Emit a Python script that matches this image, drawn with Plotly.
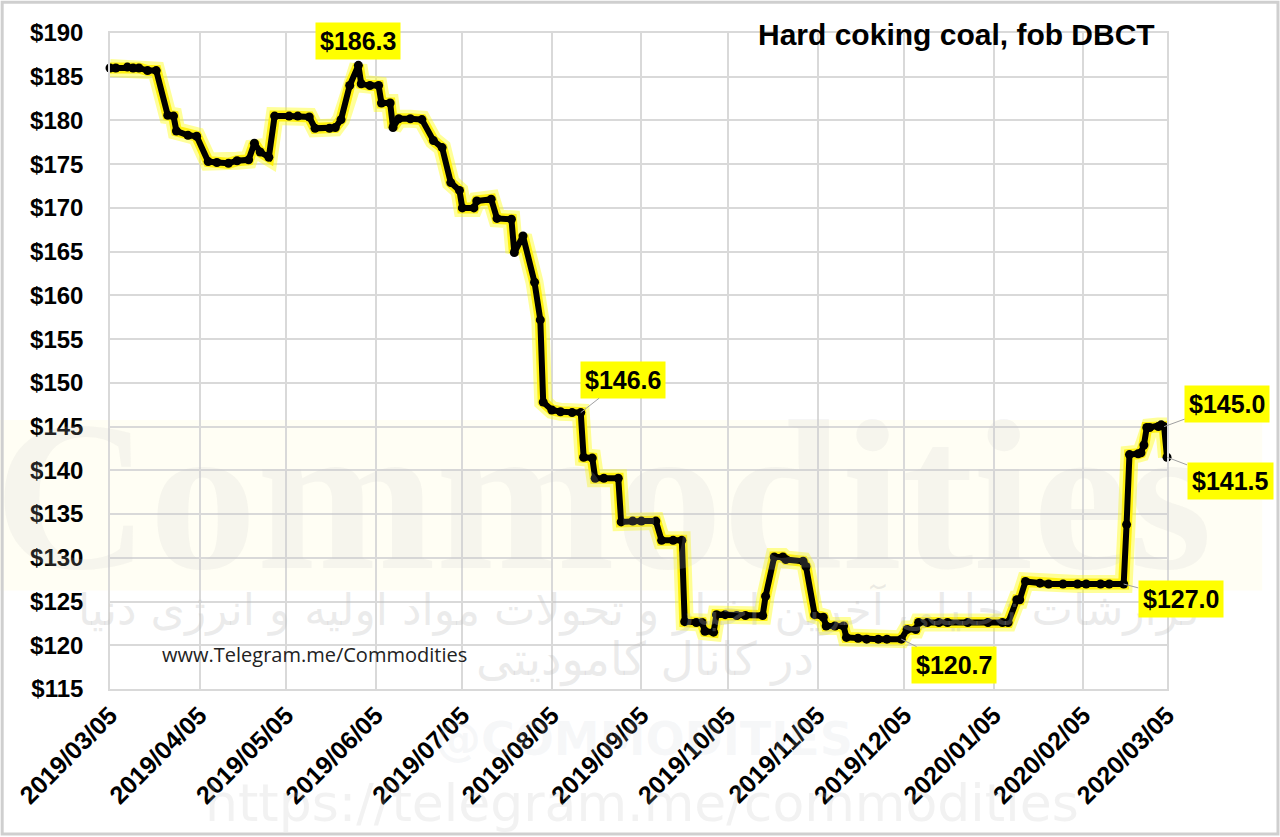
import plotly.graph_objects as go

# Hard coking coal, fob DBCT (USD/t)
dates = [
    "2019-03-05", "2019-03-07", "2019-03-11", "2019-03-13", "2019-03-15", "2019-03-18", "2019-03-21",
    "2019-03-25", "2019-03-27", "2019-03-28", "2019-04-01", "2019-04-04", "2019-04-08", "2019-04-11",
    "2019-04-15", "2019-04-18", "2019-04-22", "2019-04-24", "2019-04-26", "2019-04-29", "2019-05-01",
    "2019-05-06", "2019-05-09", "2019-05-13", "2019-05-15", "2019-05-20", "2019-05-22", "2019-05-24",
    "2019-05-27", "2019-05-30", "2019-05-31", "2019-06-03", "2019-06-06", "2019-06-07", "2019-06-10",
    "2019-06-11", "2019-06-13", "2019-06-17", "2019-06-21", "2019-06-25", "2019-06-28", "2019-07-01",
    "2019-07-04", "2019-07-05", "2019-07-09", "2019-07-10", "2019-07-15", "2019-07-17", "2019-07-22",
    "2019-07-23", "2019-07-26", "2019-07-30", "2019-08-01", "2019-08-02", "2019-08-05", "2019-08-08",
    "2019-08-12", "2019-08-15", "2019-08-16", "2019-08-19", "2019-08-20", "2019-08-23", "2019-08-28",
    "2019-08-29", "2019-09-02", "2019-09-05", "2019-09-10", "2019-09-12", "2019-09-16", "2019-09-19",
    "2019-09-20", "2019-09-24", "2019-09-26", "2019-09-27", "2019-09-30", "2019-10-01", "2019-10-04",
    "2019-10-08", "2019-10-11", "2019-10-17", "2019-10-18", "2019-10-21", "2019-10-24", "2019-10-25",
    "2019-10-31", "2019-11-01", "2019-11-04", "2019-11-07", "2019-11-08", "2019-11-11", "2019-11-14",
    "2019-11-15", "2019-11-19", "2019-11-22", "2019-11-26", "2019-11-29", "2019-12-04", "2019-12-06",
    "2019-12-09", "2019-12-10", "2019-12-13", "2019-12-17", "2019-12-20", "2019-12-27", "2020-01-03",
    "2020-01-08", "2020-01-10", "2020-01-13", "2020-01-14", "2020-01-16", "2020-01-21", "2020-01-24",
    "2020-01-29", "2020-02-03", "2020-02-06", "2020-02-11", "2020-02-14", "2020-02-19", "2020-02-20",
    "2020-02-21", "2020-02-24", "2020-02-25", "2020-02-26", "2020-02-27", "2020-02-28", "2020-03-02",
    "2020-03-03", "2020-03-04", "2020-03-05",
]
prices = [
    186.0, 186.0, 186.1, 186.0, 186.0, 185.7, 185.7,
    180.6, 180.5, 178.8, 178.3, 178.2, 175.3, 175.2,
    175.1, 175.4, 175.5, 177.4, 176.4, 175.8, 180.5,
    180.5, 180.5, 180.4, 179.1, 179.1, 179.2, 180.1,
    184.0, 186.3, 184.2, 184.0, 184.0, 182.0, 182.0,
    179.2, 180.2, 180.2, 180.1, 177.7, 176.9, 172.9,
    172.0, 170.0, 170.0, 170.8, 171.0, 168.8, 168.7,
    164.9, 166.8, 161.5, 157.2, 147.8, 146.9, 146.7,
    146.6, 146.6, 141.5, 141.4, 139.1, 139.1, 139.1,
    134.1, 134.2, 134.2, 134.2, 132.0, 132.0, 132.0,
    122.7, 122.6, 122.6, 121.6, 121.5, 123.5, 123.5,
    123.4, 123.4, 123.4, 125.6, 130.1, 130.1, 129.8,
    129.6, 129.0, 123.5, 123.2, 122.2, 122.2, 122.2,
    120.9, 120.8, 120.7, 120.7, 120.7, 120.7, 121.8,
    121.8, 122.6, 122.6, 122.6, 122.6, 122.6, 122.6,
    122.6, 122.6, 125.2, 125.2, 127.3, 127.1, 127.0,
    127.0, 127.0, 127.0, 127.0, 127.0, 127.0, 133.8,
    141.8, 141.9, 142.0, 142.9, 144.9, 144.9, 145.0,
    145.2, 145.0, 141.5,
]

tick_dates = ["2019-03-05", "2019-04-05", "2019-05-05", "2019-06-05", "2019-07-05", "2019-08-05",
              "2019-09-05", "2019-10-05", "2019-11-05", "2019-12-05", "2020-01-05", "2020-02-05",
              "2020-03-05"]
tick_labels = [d.replace("-", "/") for d in tick_dates]
y_ticks = [115, 120, 125, 130, 135, 140, 145, 150, 155, 160, 165, 170, 175, 180, 185, 190]
y_labels = [f"${v}" for v in y_ticks]

# labelled points: (date, value, ax, ay)
callouts = [
    ("2019-08-15", 146.6, 42, -33),
    ("2019-12-04", 120.7, 53, 26),
    ("2020-02-19", 127.0, 57, 15),
    ("2020-03-04", 145.0, 63, -23),
    ("2020-03-05", 141.5, 63, 24),
]

BOLD = "Liberation Sans, Arial"
WM = "rgba(185,185,185,0.28)"

fig = go.Figure()

# pale yellow band and faint watermark texts from the background
fig.add_shape(type="rect", xref="paper", yref="paper", x0=-0.104, x1=1.09, y0=0.15, y1=0.41,
              line_width=0, fillcolor="rgba(255,250,150,0.10)", layer="below")
fig.add_annotation(text="<b>Commodities</b>", xref="paper", yref="paper", x=0.466, y=0.11,
                   showarrow=False, font=dict(family="Liberation Serif", size=215, color="rgba(200,200,200,0.17)"))
fig.add_annotation(text="گزارشات تحلیلی آخرین اخبار و تحولات مواد اولیه و انرژی دنیا", xref="paper", yref="paper",
                   x=0.501, y=0.078, showarrow=False, font=dict(family="DejaVu Sans", size=44, color=WM))
fig.add_annotation(text="در کانال کامودیتی", xref="paper", yref="paper",
                   x=0.506, y=0.0, showarrow=False, font=dict(family="DejaVu Sans", size=46, color=WM))
fig.add_annotation(text="<b>@COMMODITIES</b>", xref="paper", yref="paper",
                   x=0.505, y=-0.12, showarrow=False, font=dict(family="DejaVu Sans", size=46,
                                                                color="rgba(200,205,215,0.16)"))
fig.add_annotation(text="https://telegram.me/commodities", xref="paper", yref="paper",
                   x=0.503, y=-0.222, showarrow=False, font=dict(family="DejaVu Sans", size=52,
                                                                color="rgba(190,190,190,0.2)"))

# yellow glow under the line
fig.add_trace(go.Scatter(x=dates, y=prices, mode="lines", line=dict(color="rgba(255,255,0,0.4)", width=18),
                         hoverinfo="skip", cliponaxis=False))
fig.add_trace(go.Scatter(x=dates, y=prices, mode="lines", line=dict(color="rgba(255,240,0,0.9)", width=11),
                         hoverinfo="skip", cliponaxis=False))
fig.add_trace(go.Scatter(x=dates, y=prices, mode="lines+markers", line=dict(color="black", width=6),
                         marker=dict(color="black", size=9), name="HCC fob DBCT", cliponaxis=False))

# peak label sits right above the point
fig.add_annotation(x="2019-05-30", y=186.3, text="$186.3", showarrow=False, yanchor="bottom", yshift=5,
                   bgcolor="#FFFF00", borderpad=4, font=dict(family=BOLD, size=25, color="black", weight="bold"))
for d, v, ax, ay in callouts:
    fig.add_annotation(x=d, y=v, text=f"${v:.1f}", showarrow=True, arrowhead=0, arrowwidth=1,
                       arrowcolor="#a0a0a0", ax=ax, ay=ay, bgcolor="#FFFF00", borderpad=4,
                       font=dict(family=BOLD, size=25, color="black", weight="bold"))

fig.add_annotation(text="Hard coking coal, fob DBCT", xref="paper", yref="paper", x=0.9905, y=0.998,
                   xanchor="right", yanchor="middle", showarrow=False,
                   font=dict(family=BOLD, size=30, color="black", weight="bold"))
fig.add_annotation(text="www.Telegram.me/Commodities", xref="paper", yref="paper", x=0.047, y=0.052,
                   xanchor="left", yanchor="middle", showarrow=False,
                   font=dict(family="Open Sans", size=20, color="#222222"))

# thin grey frame round the picture
fig.add_shape(type="rect", xref="paper", yref="paper", x0=-0.102, x1=1.105, y0=-0.221, y1=1.047,
              line=dict(color="#cfcfcf", width=3))

fig.update_layout(
    width=1280, height=837,
    margin=dict(l=110, r=113, t=33, b=148),
    paper_bgcolor="white", plot_bgcolor="rgba(0,0,0,0)",
    showlegend=False,
)
fig.update_xaxes(type="date", range=["2019-03-05", "2020-03-05"], tickvals=tick_dates, ticktext=tick_labels,
                 tickangle=-45, showgrid=True, gridcolor="#d9d9d9", gridwidth=1.5,
                 showline=True, linecolor="#d9d9d9", linewidth=1.5, mirror=True,
                 ticks="", tickfont=dict(family=BOLD, size=25, color="black", weight="bold"))
fig.update_yaxes(range=[115, 190], tickvals=y_ticks, ticktext=y_labels, showgrid=True, gridcolor="#d9d9d9",
                 gridwidth=1.5, showline=True, linecolor="#d9d9d9", linewidth=1.5, mirror=True,
                 zeroline=False, ticks="", ticklabelstandoff=20,
                 tickfont=dict(family=BOLD, size=24, color="black", weight="bold"))

# the page is photographed from its top-left corner, so drop the default body margin
fig.write_html("out.html", config={"displayModeBar": False},
               post_script="document.body.style.margin='0';")
